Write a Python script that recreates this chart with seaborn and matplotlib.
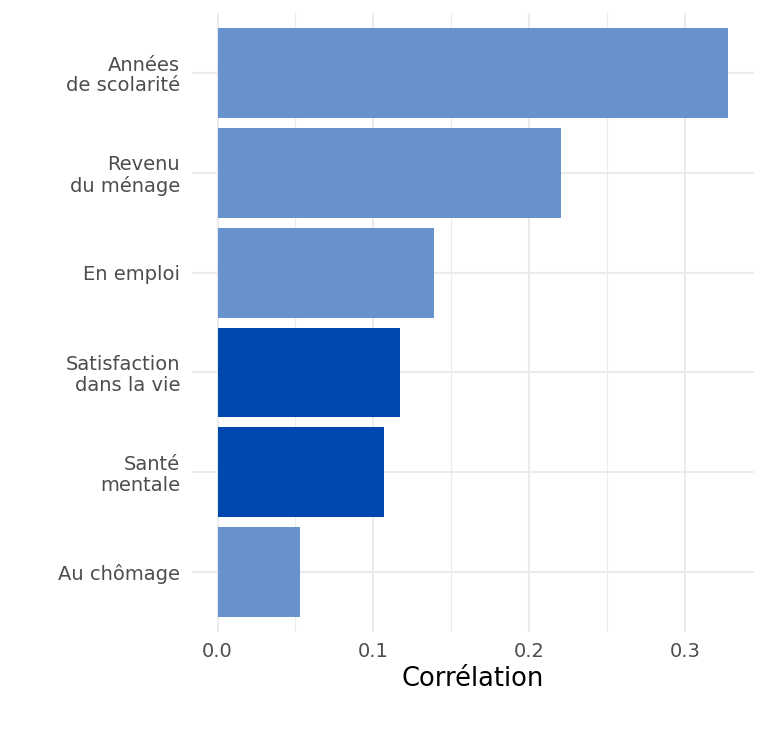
import pandas as pd
import matplotlib.pyplot as plt
import seaborn as sns
from matplotlib.ticker import MultipleLocator

categories = ["Années\nde scolarité", "Revenu\ndu ménage", "En emploi",
              "Satisfaction\ndans la vie", "Santé\nmentale", "Au chômage"]
correlations = [0.328, 0.2205, 0.139, 0.117, 0.107, 0.053]
highlight = ["non", "non", "non", "oui", "oui", "non"]

palette = {"non": "#6792CE", "oui": "#0048AE"}

sns.set_theme(style="white")
plt.rcParams['font.family'] = ['DejaVu Sans']

df = pd.DataFrame({"Variable": categories, "Corrélation": correlations,
                   "Groupe": highlight})

fig = plt.figure(figsize=(7.68, 7.44), dpi=100)
ax = fig.add_axes([0.25, 0.1505, 0.7318, 0.832])

sns.barplot(data=df, x="Corrélation", y="Variable", hue="Groupe",
            palette=palette, dodge=False, legend=False, width=0.9,
            saturation=1, linewidth=0, ax=ax, zorder=3)

ax.set_xlim(-0.0164, 0.3444)
ax.set_ylim(5.6, -0.6)
ax.xaxis.set_major_locator(MultipleLocator(0.1))
ax.xaxis.set_minor_locator(MultipleLocator(0.05))
ax.xaxis.set_major_formatter(plt.FuncFormatter(lambda v, p: f"{v:.1f}"))

ax.grid(True, which="major", axis="both", color="#EBEBEB", linewidth=1.5, zorder=0)
ax.grid(True, which="minor", axis="x", color="#EBEBEB", linewidth=0.8, zorder=0)
ax.set_axisbelow(True)
for s in ax.spines.values():
    s.set_visible(False)

ax.tick_params(axis="y", length=0, pad=8.6, labelsize=14, labelcolor="#4D4D4D")
ax.tick_params(axis="x", which="both", length=0, pad=7, labelsize=14, labelcolor="#4D4D4D")
for lab in ax.get_yticklabels():
    lab.set_linespacing(1.1)
ax.set_ylabel("")
ax.set_xlabel("Corrélation", fontsize=18.5, color="black", labelpad=4)

fig.savefig("out.png", dpi=100)
plt.close()
